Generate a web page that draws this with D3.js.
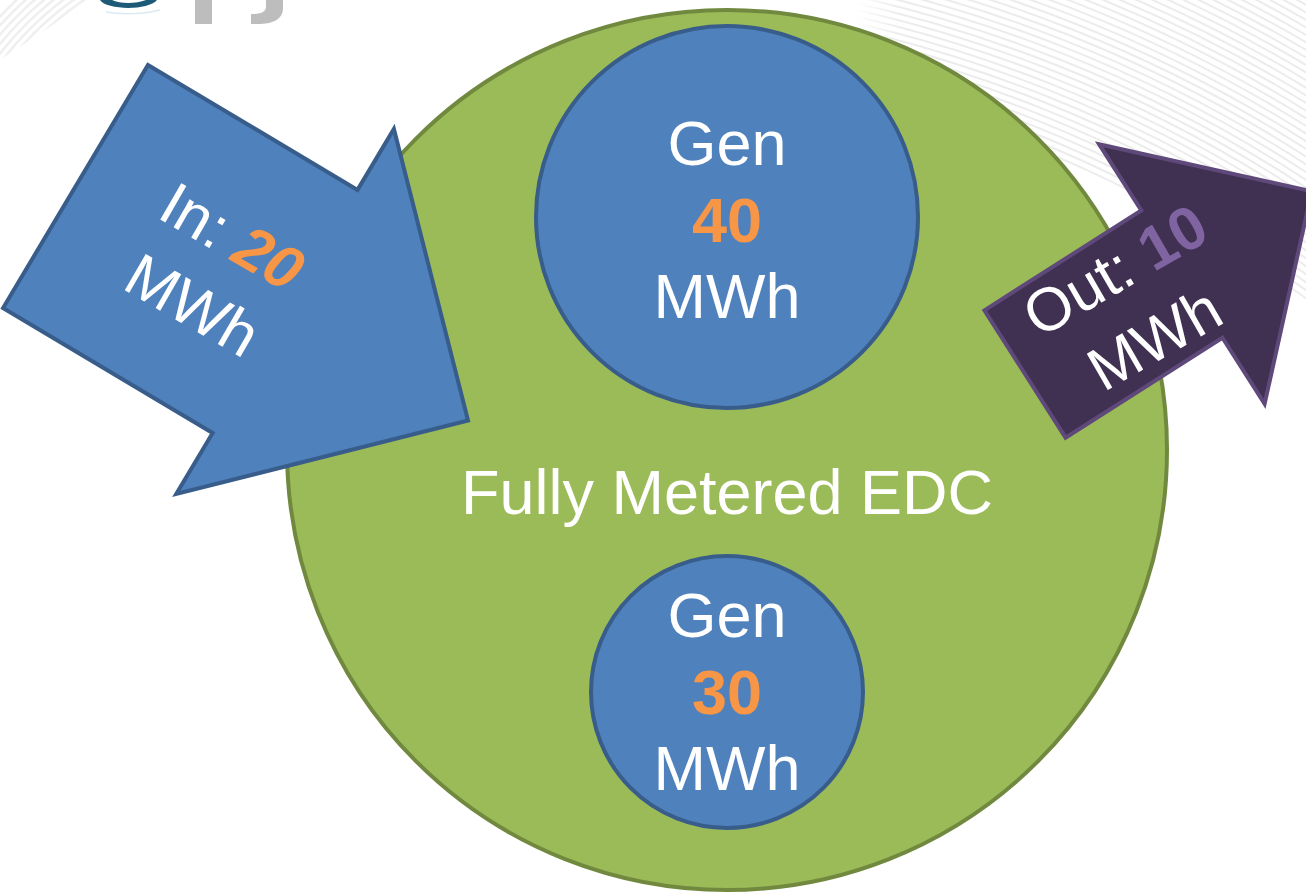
<!DOCTYPE html>
<html>
<head>
<meta charset="utf-8">
<script src="https://cdn.jsdelivr.net/npm/d3@7"></script>
<style>
  html, body { margin: 0; padding: 0; background: #ffffff; }
  svg { display: block; }
  text { font-family: "Liberation Sans", Arial, Helvetica, sans-serif; }
</style>
</head>
<body>
<div id="chart"></div>
<script>
// ---------- data ----------
const zoneLabel = "Fully Metered EDC";
const genLabels = ["Gen", "Gen"];
const genValues = [40, 30];
const flowLabels = ["In:", "Out:"];
const flowValues = [20, 10];
const unitLabel = "MWh";

// ---------- layout ----------
const W = 1306, H = 895;
const svg = d3.select("#chart").append("svg")
  .attr("width", W).attr("height", H);

const defs = svg.append("defs");

// background decorative swoosh (top-right)
const grad = defs.append("linearGradient").attr("id", "fadeR")
  .attr("x1", "0").attr("y1", "0").attr("x2", "1").attr("y2", "0");
grad.append("stop").attr("offset", "0").attr("stop-color", "#000");
grad.append("stop").attr("offset", "0.1").attr("stop-color", "#fff");
grad.append("stop").attr("offset", "1").attr("stop-color", "#fff");
defs.append("mask").attr("id", "maskR")
  .append("rect").attr("x", 855).attr("y", 0).attr("width", 451).attr("height", 300)
  .attr("fill", "url(#fadeR)");

const arcRadii = d3.range(1265, 1540, 6.5);
svg.append("g").attr("mask", "url(#maskR)")
  .selectAll("circle").data(arcRadii).join("circle")
  .attr("cx", 560).attr("cy", 1320).attr("r", d => d)
  .attr("fill", "none").attr("stroke", "#ececec").attr("stroke-width", 2);

// top-left faint arcs
defs.append("clipPath").attr("id", "clipTL")
  .append("path").attr("d", "M0,0 L90,0 L0,60 Z");
svg.append("g").attr("clip-path", "url(#clipTL)").attr("opacity", 0.7)
  .selectAll("circle").data(d3.range(300, 345, 6)).join("circle")
  .attr("cx", 250).attr("cy", 250).attr("r", d => d)
  .attr("fill", "none").attr("stroke", "#e8e8e8").attr("stroke-width", 2.5);

// partial logo at top
const logo = svg.append("g");
logo.append("path")
  .attr("d", "M100,0 C106,10 148,11 157,0 L146,0 C136,4 120,4 112,0 Z")
  .attr("fill", "#1d5a78");
logo.append("path")
  .attr("d", "M106,12 C122,15 145,14 160,10")
  .attr("fill", "none").attr("stroke", "#dbeaf2").attr("stroke-width", 1.5);
logo.append("rect").attr("x", 195).attr("y", 0).attr("width", 17).attr("height", 24)
  .attr("fill", "#bdbdbd");
logo.append("path")
  .attr("d", "M266,0 L283,0 L283,8 C283,20 272,24 258,24 L251,24 L251,14 C262,14 266,12 266,6 Z")
  .attr("fill", "#bdbdbd");

// ---------- main zone ----------
const cx = 727;
const zone = { cy: 450, r: 440 };
svg.append("circle")
  .attr("cx", cx).attr("cy", zone.cy).attr("r", zone.r)
  .attr("fill", "#9bbb59").attr("stroke", "#71893f").attr("stroke-width", 4);

// generator circles
const genGeom = [{ cy: 217, r: 191, base: 165 }, { cy: 692, r: 136, base: 637 }];
const gens = genValues.map((v, i) => ({ label: genLabels[i], value: v, ...genGeom[i] }));

const gG = svg.selectAll("g.gen").data(gens).join("g").attr("class", "gen");
gG.append("circle")
  .attr("cx", cx).attr("cy", d => d.cy).attr("r", d => d.r)
  .attr("fill", "#4f81bd").attr("stroke", "#385d8a").attr("stroke-width", 4);
const fs = 63, lh = 76.5;
gG.append("text").attr("x", cx).attr("y", d => d.base)
  .attr("text-anchor", "middle").attr("font-size", fs).attr("fill", "#ffffff")
  .text(d => d.label);
gG.append("text").attr("x", cx).attr("y", d => d.base + lh)
  .attr("text-anchor", "middle").attr("font-size", fs).attr("font-weight", "bold")
  .attr("fill", "#f79646").text(d => d.value);
gG.append("text").attr("x", cx).attr("y", d => d.base + 2 * lh)
  .attr("text-anchor", "middle").attr("font-size", fs).attr("fill", "#ffffff")
  .text(unitLabel);

svg.append("text").attr("x", cx).attr("y", 514)
  .attr("text-anchor", "middle").attr("font-size", fs).attr("fill", "#ffffff")
  .text(zoneLabel);

// ---------- flow arrows ----------
const arrowGeom = [
  { x: 75.5, y: 186.5, angle: 30.8, shaft: 244, sw: 283, hw: 425, hl: 213,
    fill: "#4f81bd", stroke: "#385d8a", numColor: "#f79646", numItalic: true,
    tx: 161, ty: 23, trot: -0.8 },
  { x: 1025, y: 374, angle: -32.5, shaft: 186, sw: 151, hw: 308, hl: 154,
    fill: "#403152", stroke: "#5f497a", numColor: "#8064a2", numItalic: false,
    tx: 129, ty: 21, trot: 2.5 }
];
const flows = flowValues.map((v, i) => ({ label: flowLabels[i], value: v, ...arrowGeom[i] }));

function arrowPath(d) {
  const s = d.sw / 2, h = d.hw / 2;
  const pts = [[0, -s], [d.shaft, -s], [d.shaft, -h], [d.shaft + d.hl, 0],
               [d.shaft, h], [d.shaft, s], [0, s]];
  return d3.line()(pts) + "Z";
}

const fG = svg.selectAll("g.flow").data(flows).join("g").attr("class", "flow")
  .attr("transform", d => `translate(${d.x},${d.y}) rotate(${d.angle})`);
fG.append("path").attr("d", arrowPath)
  .attr("fill", d => d.fill).attr("stroke", d => d.stroke)
  .attr("stroke-width", 4).attr("stroke-linejoin", "miter");

const tG = fG.append("g")
  .attr("transform", d => `translate(${d.tx},${d.ty}) rotate(${d.trot})`);
const line1 = tG.append("text").attr("x", 0).attr("y", -39)
  .attr("text-anchor", "middle").attr("font-size", 61).attr("fill", "#ffffff");
line1.append("tspan").text(d => d.label + " ");
line1.append("tspan").attr("font-weight", "bold")
  .attr("font-style", d => d.numItalic ? "italic" : "normal")
  .attr("fill", d => d.numColor).text(d => d.value);
tG.append("text").attr("x", 0).attr("y", 40)
  .attr("text-anchor", "middle").attr("font-size", 61).attr("fill", "#ffffff")
  .text(unitLabel);
</script>
</body>
</html>
